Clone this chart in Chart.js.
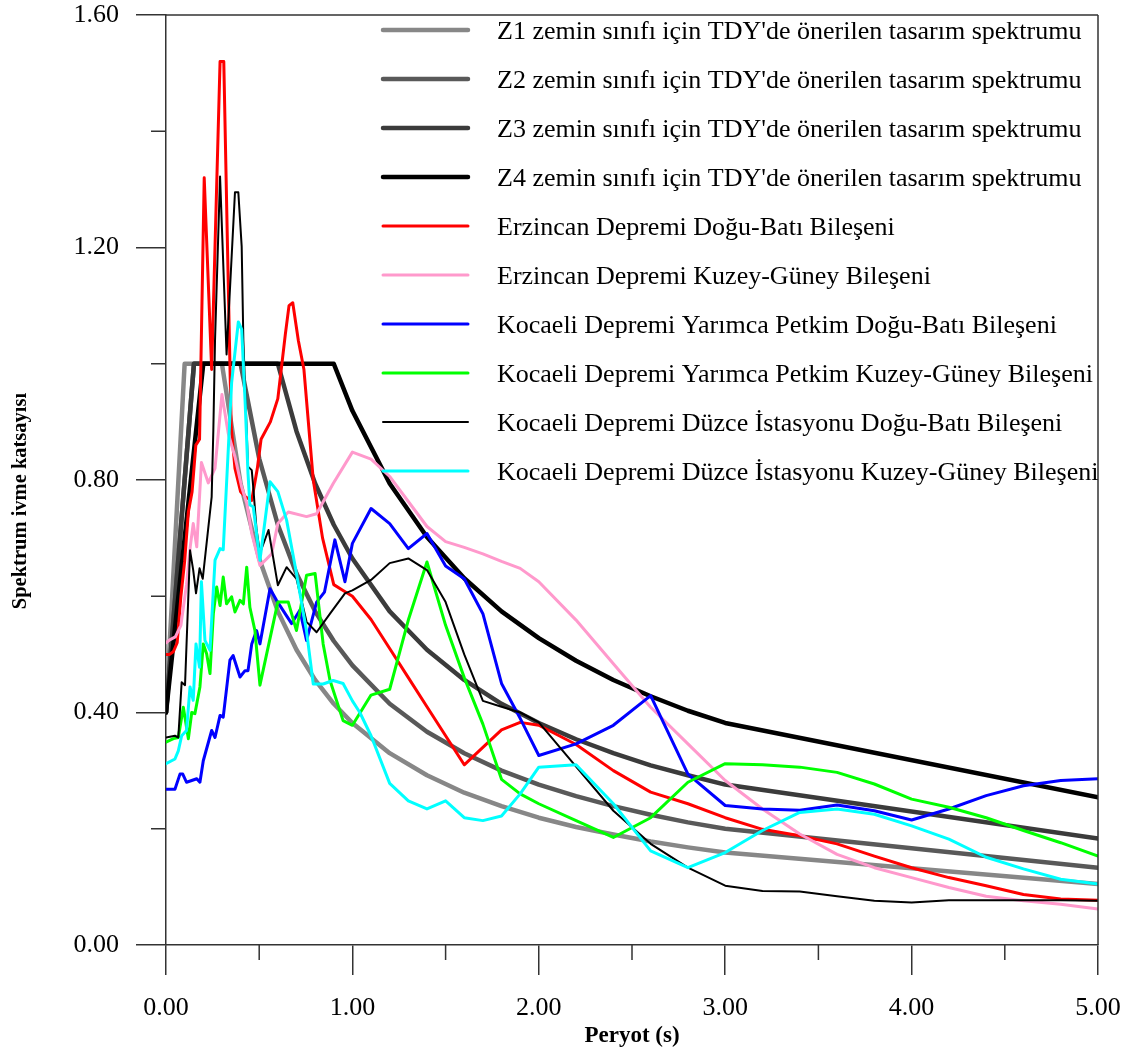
<!DOCTYPE html>
<html>
<head>
<meta charset="utf-8">
<script src="https://cdn.jsdelivr.net/npm/chart.js@4.4.1/dist/chart.umd.min.js"></script>
<style>
  html, body { margin: 0; padding: 0; background: #fff; }
  #wrap { width: 1129px; height: 1053px; }
</style>
</head>
<body>
<div id="wrap"><canvas id="c" width="1129" height="1053"></canvas></div>
<script>
// Periods (s) and spectral acceleration coefficients for each curve

// TDY design spectra, soil classes Z1..Z4
const z1T  = [0, 0.1, 0.3, 0.4, 0.5, 0.6, 0.7, 0.8, 0.9, 1.0, 1.2, 1.4, 1.6, 1.8, 2.0, 2.2, 2.4, 2.6, 2.8, 3.0, 5.0];
const z1Sa = [0.40, 1.00, 1.00, 0.794, 0.665, 0.574, 0.508, 0.456, 0.415, 0.382, 0.330, 0.292, 0.262, 0.239, 0.219, 0.203, 0.190, 0.178, 0.168, 0.159, 0.105];

const z2T  = [0, 0.15, 0.4, 0.5, 0.6, 0.7, 0.8, 0.9, 1.0, 1.2, 1.4, 1.6, 1.8, 2.0, 2.2, 2.4, 2.6, 2.8, 3.0, 5.0];
const z2Sa = [0.40, 1.00, 1.00, 0.837, 0.723, 0.639, 0.574, 0.523, 0.481, 0.415, 0.367, 0.330, 0.300, 0.276, 0.256, 0.239, 0.224, 0.211, 0.200, 0.133];

const z3T  = [0, 0.15, 0.6, 0.7, 0.8, 0.9, 1.0, 1.2, 1.4, 1.6, 1.8, 2.0, 2.2, 2.4, 2.6, 2.8, 3.0, 5.0];
const z3Sa = [0.40, 1.00, 1.00, 0.884, 0.794, 0.723, 0.665, 0.574, 0.508, 0.456, 0.415, 0.382, 0.354, 0.330, 0.309, 0.292, 0.276, 0.183];

const z4T  = [0, 0.2, 0.9, 1.0, 1.2, 1.4, 1.6, 1.8, 2.0, 2.2, 2.4, 2.6, 2.8, 3.0, 5.0];
const z4Sa = [0.40, 1.00, 1.00, 0.919, 0.794, 0.702, 0.631, 0.574, 0.528, 0.489, 0.456, 0.428, 0.403, 0.382, 0.254];

// Erzincan earthquake, east-west component
const erzEwT  = [0, 0.02, 0.04, 0.06, 0.08, 0.10, 0.12, 0.14, 0.16, 0.18, 0.205, 0.245, 0.29, 0.31, 0.33, 0.35, 0.37, 0.40, 0.43, 0.46, 0.49, 0.51, 0.56, 0.60, 0.64, 0.66, 0.68, 0.71, 0.74, 0.79, 0.84, 0.90, 0.95, 1.0, 1.1, 1.2, 1.3, 1.4, 1.5, 1.6, 1.7, 1.8, 1.9, 2.0, 2.2, 2.4, 2.6, 2.8, 3.0, 3.2, 3.4, 3.6, 3.8, 4.0, 4.2, 4.4, 4.6, 4.8, 5.0];
const erzEwSa = [0.50, 0.50, 0.505, 0.52, 0.60, 0.66, 0.745, 0.78, 0.86, 0.87, 1.32, 0.99, 1.52, 1.52, 1.20, 0.89, 0.82, 0.78, 0.77, 0.765, 0.82, 0.87, 0.90, 0.94, 1.05, 1.10, 1.105, 1.04, 0.99, 0.80, 0.70, 0.62, 0.61, 0.60, 0.56, 0.51, 0.46, 0.41, 0.36, 0.31, 0.34, 0.37, 0.383, 0.378, 0.345, 0.300, 0.263, 0.243, 0.219, 0.199, 0.188, 0.174, 0.153, 0.133, 0.116, 0.102, 0.087, 0.079, 0.077];

// Erzincan earthquake, north-south component
const erzNsT  = [0, 0.02, 0.05, 0.08, 0.11, 0.13, 0.146, 0.165, 0.19, 0.227, 0.263, 0.30, 0.334, 0.37, 0.406, 0.433, 0.46, 0.504, 0.567, 0.60, 0.656, 0.754, 0.808, 0.897, 1.0, 1.1, 1.2, 1.3, 1.4, 1.5, 1.6, 1.7, 1.8, 1.9, 2.0, 2.2, 2.4, 2.6, 2.8, 3.0, 3.2, 3.4, 3.6, 3.8, 4.0, 4.2, 4.4, 4.6, 4.8, 5.0];
const erzNsSa = [0.52, 0.525, 0.53, 0.55, 0.62, 0.685, 0.725, 0.685, 0.83, 0.795, 0.82, 0.947, 0.88, 0.84, 0.788, 0.76, 0.708, 0.653, 0.673, 0.725, 0.745, 0.737, 0.742, 0.794, 0.848, 0.836, 0.806, 0.763, 0.720, 0.694, 0.684, 0.673, 0.660, 0.648, 0.625, 0.559, 0.484, 0.409, 0.346, 0.283, 0.234, 0.191, 0.156, 0.133, 0.116, 0.099, 0.084, 0.076, 0.070, 0.062];

// Kocaeli earthquake, Yarımca Petkim east-west component
const yarEwT  = [0, 0.048, 0.075, 0.09, 0.11, 0.138, 0.165, 0.182, 0.20, 0.245, 0.263, 0.29, 0.307, 0.343, 0.36, 0.397, 0.424, 0.44, 0.46, 0.486, 0.504, 0.558, 0.593, 0.674, 0.718, 0.754, 0.808, 0.85, 0.906, 0.96, 1.0, 1.1, 1.2, 1.3, 1.4, 1.5, 1.6, 1.7, 1.8, 1.9, 2.0, 2.2, 2.4, 2.6, 2.8, 3.0, 3.2, 3.4, 3.6, 3.8, 4.0, 4.2, 4.4, 4.6, 4.8, 5.0];
const yarEwSa = [0.268, 0.268, 0.294, 0.294, 0.280, 0.283, 0.286, 0.280, 0.317, 0.369, 0.357, 0.395, 0.392, 0.490, 0.498, 0.461, 0.472, 0.472, 0.518, 0.541, 0.518, 0.613, 0.593, 0.553, 0.576, 0.524, 0.590, 0.607, 0.697, 0.625, 0.691, 0.751, 0.725, 0.682, 0.708, 0.652, 0.630, 0.570, 0.450, 0.390, 0.326, 0.346, 0.378, 0.429, 0.294, 0.240, 0.234, 0.232, 0.241, 0.231, 0.215, 0.234, 0.257, 0.274, 0.283, 0.286];

// Kocaeli earthquake, Yarımca Petkim north-south component
const yarNsT  = [0, 0.04, 0.066, 0.093, 0.12, 0.138, 0.155, 0.182, 0.20, 0.218, 0.236, 0.254, 0.272, 0.29, 0.307, 0.325, 0.352, 0.37, 0.397, 0.415, 0.433, 0.45, 0.477, 0.504, 0.60, 0.656, 0.70, 0.754, 0.80, 0.843, 0.88, 0.95, 1.0, 1.1, 1.2, 1.3, 1.4, 1.5, 1.6, 1.7, 1.8, 1.9, 2.0, 2.2, 2.4, 2.6, 2.8, 3.0, 3.2, 3.4, 3.6, 3.8, 4.0, 4.2, 4.4, 4.6, 4.8, 5.0];
const yarNsSa = [0.349, 0.355, 0.357, 0.409, 0.355, 0.400, 0.398, 0.444, 0.518, 0.501, 0.467, 0.570, 0.616, 0.584, 0.633, 0.587, 0.599, 0.573, 0.593, 0.587, 0.650, 0.581, 0.541, 0.447, 0.590, 0.590, 0.541, 0.636, 0.639, 0.518, 0.455, 0.386, 0.378, 0.430, 0.440, 0.559, 0.659, 0.550, 0.460, 0.380, 0.285, 0.260, 0.243, 0.214, 0.185, 0.219, 0.280, 0.312, 0.310, 0.306, 0.297, 0.277, 0.251, 0.237, 0.219, 0.197, 0.176, 0.153];

// Kocaeli earthquake, Düzce station east-west component
const duzEwT  = [0, 0.048, 0.066, 0.084, 0.102, 0.129, 0.146, 0.161, 0.18, 0.197, 0.245, 0.254, 0.263, 0.29, 0.325, 0.37, 0.388, 0.406, 0.415, 0.44, 0.46, 0.468, 0.486, 0.504, 0.55, 0.60, 0.647, 0.70, 0.754, 0.808, 0.88, 0.96, 1.0, 1.1, 1.2, 1.3, 1.4, 1.5, 1.6, 1.7, 1.8, 1.9, 2.0, 2.2, 2.4, 2.6, 2.8, 3.0, 3.2, 3.4, 3.6, 3.8, 4.0, 4.2, 4.4, 4.6, 4.8, 5.0];
const duzEwSa = [0.357, 0.360, 0.357, 0.452, 0.447, 0.679, 0.645, 0.605, 0.648, 0.630, 0.771, 0.886, 1.04, 1.322, 1.016, 1.295, 1.295, 1.202, 1.04, 0.823, 0.817, 0.788, 0.714, 0.674, 0.714, 0.619, 0.650, 0.630, 0.556, 0.538, 0.570, 0.605, 0.610, 0.628, 0.657, 0.665, 0.645, 0.590, 0.500, 0.420, 0.410, 0.400, 0.383, 0.307, 0.231, 0.174, 0.133, 0.102, 0.093, 0.092, 0.084, 0.076, 0.073, 0.077, 0.077, 0.077, 0.077, 0.076];

// Kocaeli earthquake, Düzce station north-south component
const duzNsT  = [0, 0.048, 0.066, 0.084, 0.11, 0.129, 0.146, 0.161, 0.18, 0.19, 0.209, 0.236, 0.263, 0.29, 0.307, 0.334, 0.352, 0.388, 0.406, 0.424, 0.44, 0.45, 0.468, 0.504, 0.558, 0.60, 0.647, 0.70, 0.754, 0.79, 0.843, 0.897, 0.95, 1.0, 1.04, 1.1, 1.2, 1.3, 1.4, 1.5, 1.6, 1.7, 1.8, 1.9, 2.0, 2.2, 2.4, 2.6, 2.8, 3.0, 3.2, 3.4, 3.6, 3.8, 4.0, 4.2, 4.4, 4.6, 4.8, 5.0];
const duzNsSa = [0.312, 0.320, 0.334, 0.360, 0.369, 0.444, 0.421, 0.518, 0.478, 0.625, 0.524, 0.507, 0.662, 0.682, 0.680, 0.852, 0.967, 1.072, 1.059, 0.938, 0.811, 0.757, 0.754, 0.662, 0.797, 0.780, 0.731, 0.639, 0.540, 0.449, 0.449, 0.455, 0.450, 0.420, 0.400, 0.360, 0.278, 0.248, 0.234, 0.248, 0.219, 0.214, 0.222, 0.260, 0.306, 0.310, 0.243, 0.162, 0.133, 0.159, 0.197, 0.228, 0.234, 0.225, 0.205, 0.182, 0.151, 0.131, 0.113, 0.105];

// Series labels, axis titles and tick positions
const seriesLabels = [
  "Z1 zemin sınıfı için TDY'de önerilen tasarım spektrumu",
  "Z2 zemin sınıfı için TDY'de önerilen tasarım spektrumu",
  "Z3 zemin sınıfı için TDY'de önerilen tasarım spektrumu",
  "Z4 zemin sınıfı için TDY'de önerilen tasarım spektrumu",
  "Erzincan Depremi Doğu-Batı Bileşeni",
  "Erzincan Depremi Kuzey-Güney Bileşeni",
  "Kocaeli Depremi Yarımca Petkim Doğu-Batı Bileşeni",
  "Kocaeli Depremi Yarımca Petkim Kuzey-Güney Bileşeni",
  "Kocaeli Depremi Düzce İstasyonu Doğu-Batı Bileşeni",
  "Kocaeli Depremi Düzce İstasyonu Kuzey-Güney Bileşeni"
];
const xTitle = 'Peryot (s)';
const yTitle = 'Spektrum ivme katsayısı';
const xTickValues = [0, 1, 2, 3, 4, 5];
const xMinorTicks = [0.5, 1.5, 2.5, 3.5, 4.5];
const yTickValues = [0, 0.4, 0.8, 1.2, 1.6];
const yMinorTicks = [0.2, 0.6, 1.0, 1.4];

const seriesT  = [z1T, z2T, z3T, z4T, erzEwT, erzNsT, yarEwT, yarNsT, duzEwT, duzNsT];
const seriesSa = [z1Sa, z2Sa, z3Sa, z4Sa, erzEwSa, erzNsSa, yarEwSa, yarNsSa, duzEwSa, duzNsSa];

const colors = ['#878787', '#595959', '#3b3b3b', '#000000', '#ff0000', '#ff99cc', '#0000ff', '#00ff00', '#000000', '#00ffff'];
const widths = [4.5, 4.5, 4.5, 4.5, 3, 3, 3, 3, 2, 3];

const FONT = "'Liberation Serif', 'Times New Roman', serif";
const AXIS = '#333333';

const datasets = seriesLabels.map((label, i) => ({
  label,
  data: seriesT[i].map((t, k) => ({ x: t, y: seriesSa[i][k] })),
  borderColor: colors[i],
  backgroundColor: colors[i],
  borderWidth: widths[i],
  pointRadius: 0,
  tension: 0,
  fill: false,
  borderJoinStyle: 'round',
  borderCapStyle: 'round',
  order: seriesLabels.length - i
}));

// Box frame, minor ticks, axis titles and the in-plot legend
const decorPlugin = {
  id: 'decor',
  afterDraw(chart) {
    const { ctx, chartArea: a, scales: { x, y } } = chart;
    ctx.save();
    ctx.strokeStyle = AXIS;
    ctx.lineWidth = 1.5;
    ctx.beginPath();
    ctx.moveTo(a.left, a.top); ctx.lineTo(a.right, a.top);
    ctx.moveTo(a.right, a.top); ctx.lineTo(a.right, a.bottom);
    xMinorTicks.forEach(v => {
      const px = x.getPixelForValue(v);
      ctx.moveTo(px, a.bottom); ctx.lineTo(px, a.bottom + 15);
    });
    yMinorTicks.forEach(v => {
      const py = y.getPixelForValue(v);
      ctx.moveTo(a.left - 15, py); ctx.lineTo(a.left, py);
    });
    ctx.stroke();

    // axis titles
    ctx.fillStyle = '#000';
    ctx.textAlign = 'center';
    ctx.textBaseline = 'middle';
    ctx.font = 'bold 23px ' + FONT;
    ctx.fillText(xTitle, (a.left + a.right) / 2, 1036);
    ctx.save();
    ctx.translate(21, 501);
    ctx.rotate(-Math.PI / 2);
    ctx.font = 'bold 20.5px ' + FONT;
    ctx.fillText(yTitle, 0, 0);
    ctx.restore();

    // legend rows
    ctx.font = '26px ' + FONT;
    ctx.textBaseline = 'alphabetic';
    ctx.textAlign = 'left';
    chart.data.datasets.forEach((ds, i) => {
      const ly = 30 + i * 49;
      ctx.strokeStyle = ds.borderColor;
      ctx.lineWidth = ds.borderWidth;
      ctx.lineCap = 'round';
      ctx.beginPath();
      ctx.moveTo(383, ly); ctx.lineTo(468, ly);
      ctx.stroke();
      ctx.fillText(ds.label, 497, ly + 8.5);
    });
    ctx.restore();
  }
};

new Chart(document.getElementById('c'), {
  type: 'line',
  data: { datasets },
  options: {
    responsive: false,
    maintainAspectRatio: false,
    devicePixelRatio: 1,
    animation: false,
    events: [],
    layout: { padding: { top: 15, right: 31, left: 0, bottom: 0 } },
    plugins: { legend: { display: false }, tooltip: { enabled: false } },
    scales: {
      x: {
        type: 'linear',
        min: 0, max: 5,
        afterFit: s => { s.height = 108; s.paddingLeft = 0; s.paddingRight = 0; },
        afterBuildTicks: s => { s.ticks = xTickValues.map(v => ({ value: v })); },
        ticks: { callback: v => v.toFixed(2), font: { family: FONT, size: 26 }, color: '#000', padding: 18, maxRotation: 0, autoSkip: false },
        grid: { display: true, drawOnChartArea: false, drawTicks: true, tickLength: 30, color: AXIS, lineWidth: 1.5 },
        border: { display: true, color: AXIS, width: 1.5 }
      },
      y: {
        type: 'linear',
        min: 0, max: 1.6,
        afterFit: s => { s.width = 166; s.paddingTop = 0; s.paddingBottom = 0; },
        afterBuildTicks: s => { s.ticks = yTickValues.map(v => ({ value: v })); },
        ticks: { callback: v => v.toFixed(2), font: { family: FONT, size: 26 }, color: '#000', padding: 17, autoSkip: false },
        grid: { display: true, drawOnChartArea: false, drawTicks: true, tickLength: 30, color: AXIS, lineWidth: 1.5 },
        border: { display: true, color: AXIS, width: 1.5 }
      }
    }
  },
  plugins: [decorPlugin]
});
</script>
</body>
</html>
